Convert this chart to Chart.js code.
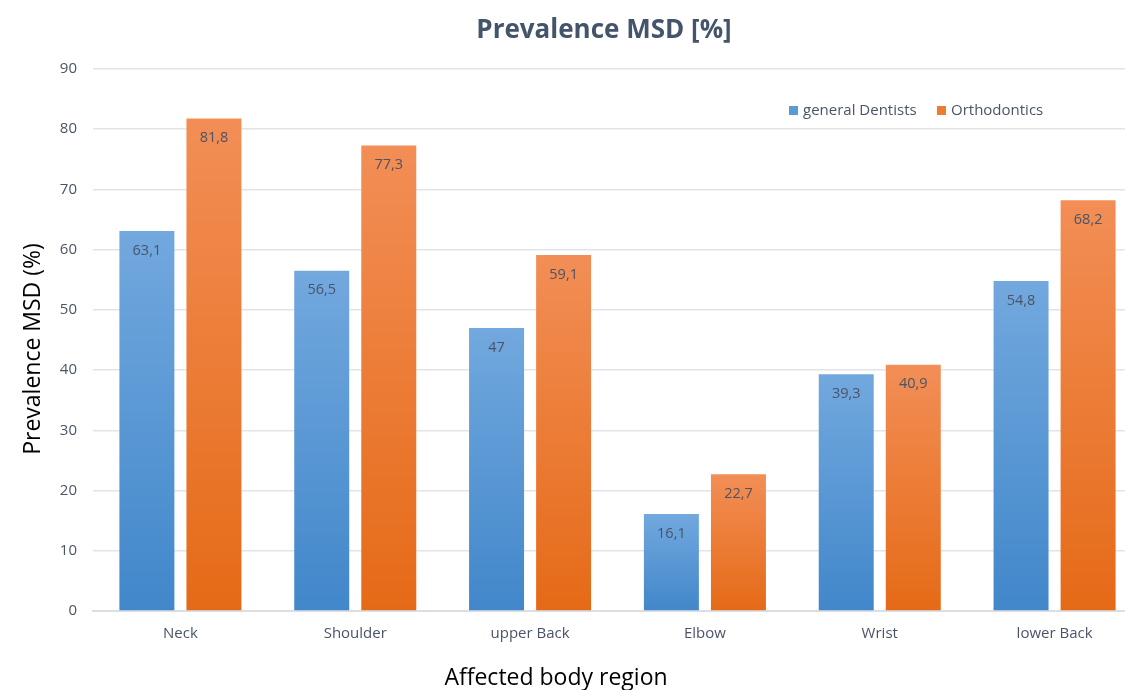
<!DOCTYPE html>
<html>
<head>
<meta charset="utf-8">
<script src="https://cdn.jsdelivr.net/npm/chart.js@4.4.1/dist/chart.umd.min.js"></script>
<style>
  html, body { margin: 0; padding: 0; background: #fff; overflow: hidden; }
  #wrap { position: relative; width: 1142px; height: 690px; }
</style>
</head>
<body>
<div id="wrap"><canvas id="msdChart"></canvas></div>
<script>
// Regions and prevalence values
const regions = ['Neck', 'Shoulder', 'upper Back', 'Elbow', 'Wrist', 'lower Back'];
const dentists = [63.1, 56.5, 47, 16.1, 39.3, 54.8];
const orthodontics = [81.8, 77.3, 59.1, 22.7, 40.9, 68.2];
const yTicks = [0, 10, 20, 30, 40, 50, 60, 70, 80, 90];

const textColor = '#4A5468';
const fontFamily = '"Open Sans", Lato, sans-serif';

// Gradient per bar: lighter on top, darker at the base (like Excel)
function barGradient(topColor, bottomColor) {
    return function (context) {
        const chart = context.chart;
        const { ctx, chartArea, scales } = chart;
        if (!chartArea || context.parsed == null) return bottomColor;
        const yTop = scales.y.getPixelForValue(context.parsed.y);
        const yBase = scales.y.getPixelForValue(0);
        if (!isFinite(yTop) || yBase - yTop < 1) return bottomColor;
        const g = ctx.createLinearGradient(0, yTop, 0, yBase);
        g.addColorStop(0, topColor);
        g.addColorStop(1, bottomColor);
        return g;
    };
}

// Labels inside the top of each bar
const valueLabels = {
    id: 'valueLabels',
    afterDatasetsDraw(chart) {
        const ctx = chart.ctx;
        ctx.save();
        ctx.font = '14.5px ' + fontFamily;
        ctx.fillStyle = textColor;
        ctx.textAlign = 'center';
        ctx.textBaseline = 'middle';
        chart.data.datasets.forEach((ds, i) => {
            chart.getDatasetMeta(i).data.forEach((bar, j) => {
                const txt = String(ds.data[j]).replace('.', ',');
                ctx.fillText(txt, bar.x, bar.y + 19.5);
            });
        });
        ctx.restore();
    }
};

// Legend inside the plot (upper right) plus the three titles
const decorations = {
    id: 'decorations',
    afterDraw(chart) {
        const ctx = chart.ctx;
        const items = [
            { text: 'general Dentists', color: '#5B9BD5', x: 789 },
            { text: 'Orthodontics', color: '#ED7D31', x: 937 }
        ];
        ctx.save();
        ctx.font = '15px ' + fontFamily;
        ctx.textBaseline = 'middle';
        ctx.textAlign = 'left';
        items.forEach(it => {
            ctx.fillStyle = it.color;
            ctx.fillRect(it.x, 106, 9, 9);
            ctx.fillStyle = textColor;
            ctx.fillText(it.text, it.x + 14, 110.5);
        });

        ctx.textAlign = 'center';
        ctx.textBaseline = 'alphabetic';
        ctx.fillStyle = '#44546A';
        ctx.font = 'bold 26px ' + fontFamily;
        ctx.fillText('Prevalence MSD [%]', 604, 38);

        ctx.fillStyle = '#000';
        ctx.font = '23px ' + fontFamily;
        ctx.fillText('Affected body region', 556, 685);

        ctx.translate(40, 349);
        ctx.rotate(-Math.PI / 2);
        ctx.fillText('Prevalence MSD (%)', 0, 0);
        ctx.restore();
    }
};

new Chart(document.getElementById('msdChart'), {
    type: 'bar',
    data: {
        labels: regions,
        datasets: [
            {
                label: 'general Dentists',
                data: dentists,
                backgroundColor: barGradient('#72A8DE', '#4187CA'),
                categoryPercentage: 0.767,
                barPercentage: 0.82
            },
            {
                label: 'Orthodontics',
                data: orthodontics,
                backgroundColor: barGradient('#F28E56', '#E56A17'),
                categoryPercentage: 0.767,
                barPercentage: 0.82
            }
        ]
    },
    options: {
        responsive: true,
        maintainAspectRatio: false,
        animation: false,
        layout: { padding: { top: 69, left: 0, right: 0, bottom: 0 } },
        scales: {
            x: {
                grid: { display: false, drawTicks: false },
                border: { display: true, color: '#DCDEE4', width: 2 },
                ticks: { color: textColor, font: { family: fontFamily, size: 15 }, padding: 14 },
                afterFit(scale) { scale.height = 79; }
            },
            y: {
                min: 0,
                max: 90,
                afterBuildTicks(scale) { scale.ticks = yTicks.map(v => ({ value: v })); },
                grid: { color: '#E3E4EA', lineWidth: 1.5, drawTicks: false },
                border: { display: false },
                ticks: { color: textColor, font: { family: fontFamily, size: 15 }, padding: 16 },
                afterFit(scale) { scale.width = 93; }
            }
        },
        plugins: {
            legend: { display: false },
            tooltip: { enabled: false },
            title: { display: false }
        }
    },
    plugins: [valueLabels, decorations]
});
</script>
</body>
</html>
